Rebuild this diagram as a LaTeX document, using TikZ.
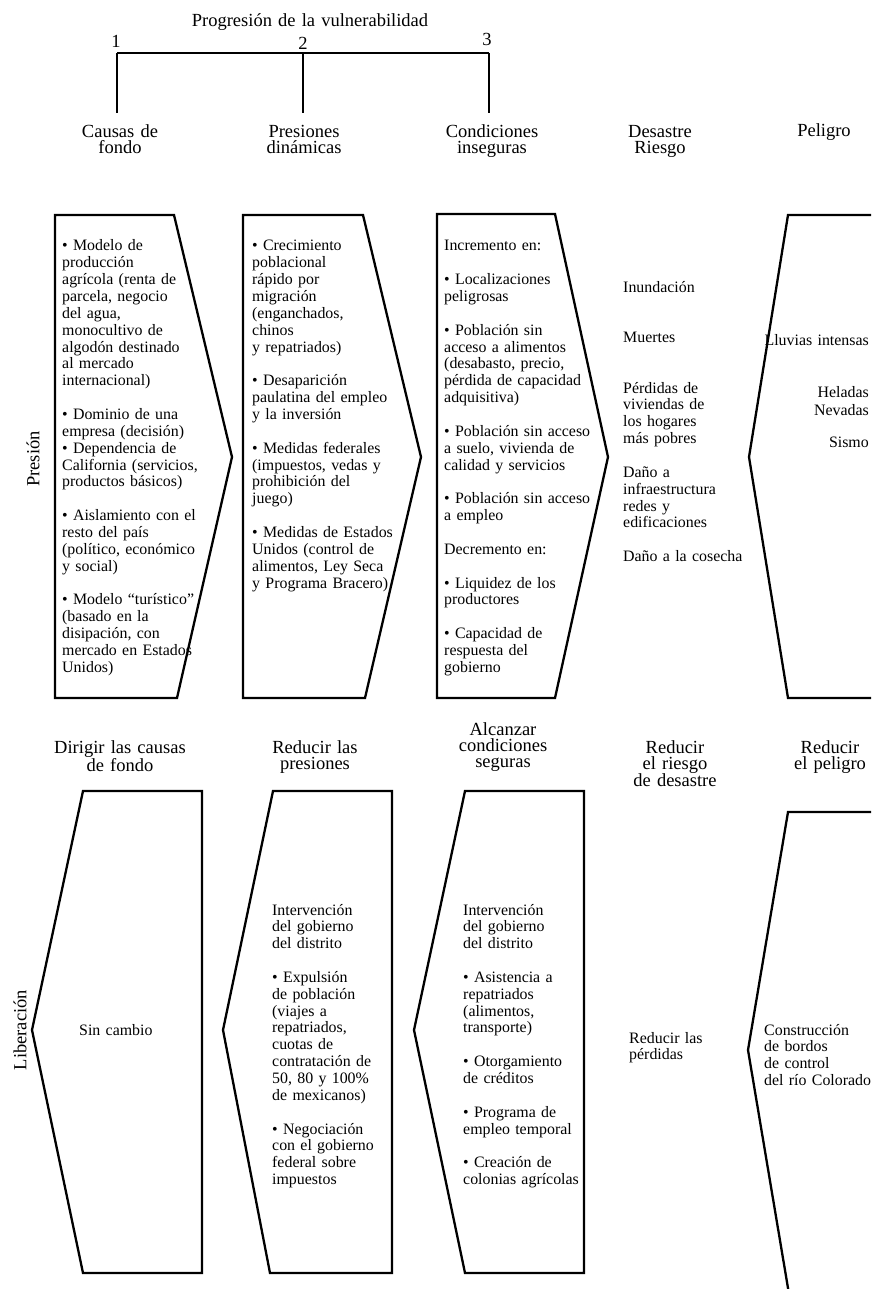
\documentclass[tikz,border=0pt]{standalone}
\usepackage{fontspec}
\setmainfont{Liberation Serif}
\begin{document}
\begin{tikzpicture}[x=1pt,y=-1pt,
  vulbox/.style={draw, line width=2.3pt, line join=miter},
  bracket/.style={line width=2.6pt},
  bodytxt/.style={anchor=base west, inner sep=0pt, text width=200pt, align=left, font=\fontsize{15.9}{16.85}\selectfont},
  headtxt/.style={anchor=base, inner sep=0pt, text width=190pt, align=center, font=\fontsize{18.5}{16}\selectfont},
  sidetxt/.style={rotate=90, inner sep=0pt, font=\fontsize{18.5}{16}\selectfont}]
\fill[white] (0,0) rectangle (871,1289);
\clip (0,0) rectangle (871,1289);
% progression bracket
\node[headtxt, text width=300pt] (progresion) at (310,27) {Progresión de la vulnerabilidad};
\node[headtxt] (n1) at (116,48) {1};
\node[headtxt] (n2) at (303,50) {2};
\node[headtxt] (n3) at (487,46) {3};
\coordinate (b1) at (117,53);
\coordinate (b2) at (303,53);
\coordinate (b3) at (489,53);
\coordinate (e1) at (117,113);
\coordinate (e2) at (303,113);
\coordinate (e3) at (489,113);
\draw[bracket] (b1) -- (b3);
\draw[bracket] (b1) -- (e1);
\draw[bracket] (b2) -- (e2);
\draw[bracket] (b3) -- (e3);
% top headings
\node[headtxt] (hcausas) at (120,138) {Causas de\\fondo};
\node[headtxt] (hpresiones) at (304,138) {Presiones\\dinámicas};
\node[headtxt] (hcondiciones) at (492,138) {Condiciones\\inseguras};
\node[headtxt] (hdesastre) at (660,138) {Desastre\\Riesgo};
\node[headtxt] (hpeligro) at (824,137) {Peligro};
\node[sidetxt] (presion) at (33,459) {Presión};
% top boxes
\draw[vulbox] (55,215) -- (174,215) -- (232,457) -- (177,698) -- (55,698) -- cycle;
\draw[vulbox] (243,215) -- (363,215) -- (421,457) -- (365,698) -- (243,698) -- cycle;
\draw[vulbox] (437,214) -- (555,214) -- (608,457) -- (555,698) -- (437,698) -- cycle;
\draw[vulbox] (890,215) -- (788,215) -- (749,457) -- (788,698) -- (890,698) -- cycle;
\node[bodytxt] (causas) at (62,251) {• Modelo de\\ producción\\ agrícola (renta de\\ parcela, negocio\\ del agua,\\ monocultivo de\\ algodón destinado\\ al mercado\\ internacional)\\[16.85pt]
• Dominio de una\\ empresa (decisión)\\ • Dependencia de\\ California (servicios,\\ productos básicos)\\[16.85pt]
• Aislamiento con el\\ resto del país\\ (político, económico\\ y social)\\[16.85pt]
• Modelo “turístico”\\ (basado en la\\ disipación, con\\ mercado en Estados\\ Unidos)};
\node[bodytxt] (presiones) at (252,251) {• Crecimiento\\ poblacional\\ rápido por\\ migración\\ (enganchados,\\ chinos\\ y repatriados)\\[16.85pt]
• Desaparición\\ paulatina del empleo\\ y la inversión\\[16.85pt]
• Medidas federales\\ (impuestos, vedas y\\ prohibición del\\ juego)\\[16.85pt]
• Medidas de Estados\\ Unidos (control de\\ alimentos, Ley Seca\\ y Programa Bracero)};
\node[bodytxt] (condiciones) at (444,251) {Incremento en:\\[16.85pt]
• Localizaciones\\ peligrosas\\[16.85pt]
• Población sin\\ acceso a alimentos\\ (desabasto, precio,\\ pérdida de capacidad\\ adquisitiva)\\[16.85pt]
• Población sin acceso\\ a suelo, vivienda de\\ calidad y servicios\\[16.85pt]
• Población sin acceso\\ a empleo\\[16.85pt]
Decremento en:\\[16.85pt]
• Liquidez de los\\ productores\\[16.85pt]
• Capacidad de\\ respuesta del\\ gobierno};
\node[bodytxt] (desastre) at (623,292) {Inundación\\[33.7pt]
Muertes\\[33.7pt]
Pérdidas de\\ viviendas de\\ los hogares\\ más pobres\\[16.85pt]
Daño a\\ infraestructura\\ redes y\\ edificaciones\\[16.85pt]
Daño a la cosecha};
\node[bodytxt, anchor=base east, align=right, text width=150pt] (peligro) at (869,345) {Lluvias intensas\\[36pt]
Heladas\\[1pt] Nevadas\\[15pt] Sismo};
% bottom headings
\node[headtxt] (hdirigir) at (120,753) {Dirigir las causas\\de fondo};
\node[headtxt] (hreducirp) at (315,753) {Reducir las\\presiones};
\node[headtxt] (halcanzar) at (503,735) {Alcanzar\\condiciones\\seguras};
\node[headtxt] (hreducird) at (675,753) {Reducir\\el riesgo\\de desastre};
\node[headtxt] (hreducirpel) at (830,753) {Reducir\\el peligro};
\node[sidetxt] (liberacion) at (20,1030) {Liberación};
% bottom boxes
\draw[vulbox] (83,791) -- (202,791) -- (202,1273) -- (83,1273) -- (32,1030) -- cycle;
\draw[vulbox] (273,791) -- (392,791) -- (392,1273) -- (270,1273) -- (223,1030) -- cycle;
\draw[vulbox] (465,791) -- (584,791) -- (584,1273) -- (465,1273) -- (414,1030) -- cycle;
\draw[vulbox] (890,812) -- (788,812) -- (748,1050) -- (790,1300) -- (890,1300) -- cycle;
\node[bodytxt] (sincambio) at (79,1035) {Sin cambio};
\node[bodytxt] (reducirp) at (272,915) {Intervención\\ del gobierno\\ del distrito\\[16.85pt]
• Expulsión\\ de población\\ (viajes a\\ repatriados,\\ cuotas de\\ contratación de\\ 50, 80 y 100\%\\ de mexicanos)\\[16.85pt]
• Negociación\\ con el gobierno\\ federal sobre\\ impuestos};
\node[bodytxt] (alcanzar) at (463,915) {Intervención\\ del gobierno\\ del distrito\\[16.85pt]
• Asistencia a\\ repatriados\\ (alimentos,\\ transporte)\\[16.85pt]
• Otorgamiento\\ de créditos\\[16.85pt]
• Programa de\\ empleo temporal\\[16.85pt]
• Creación de\\ colonias agrícolas};
\node[bodytxt] (reducird) at (629,1043) {Reducir las\\ pérdidas};
\node[bodytxt] (reducirpel) at (764,1035) {Construcción\\ de bordos\\ de control\\ del río Colorado};
\end{tikzpicture}
\end{document}
